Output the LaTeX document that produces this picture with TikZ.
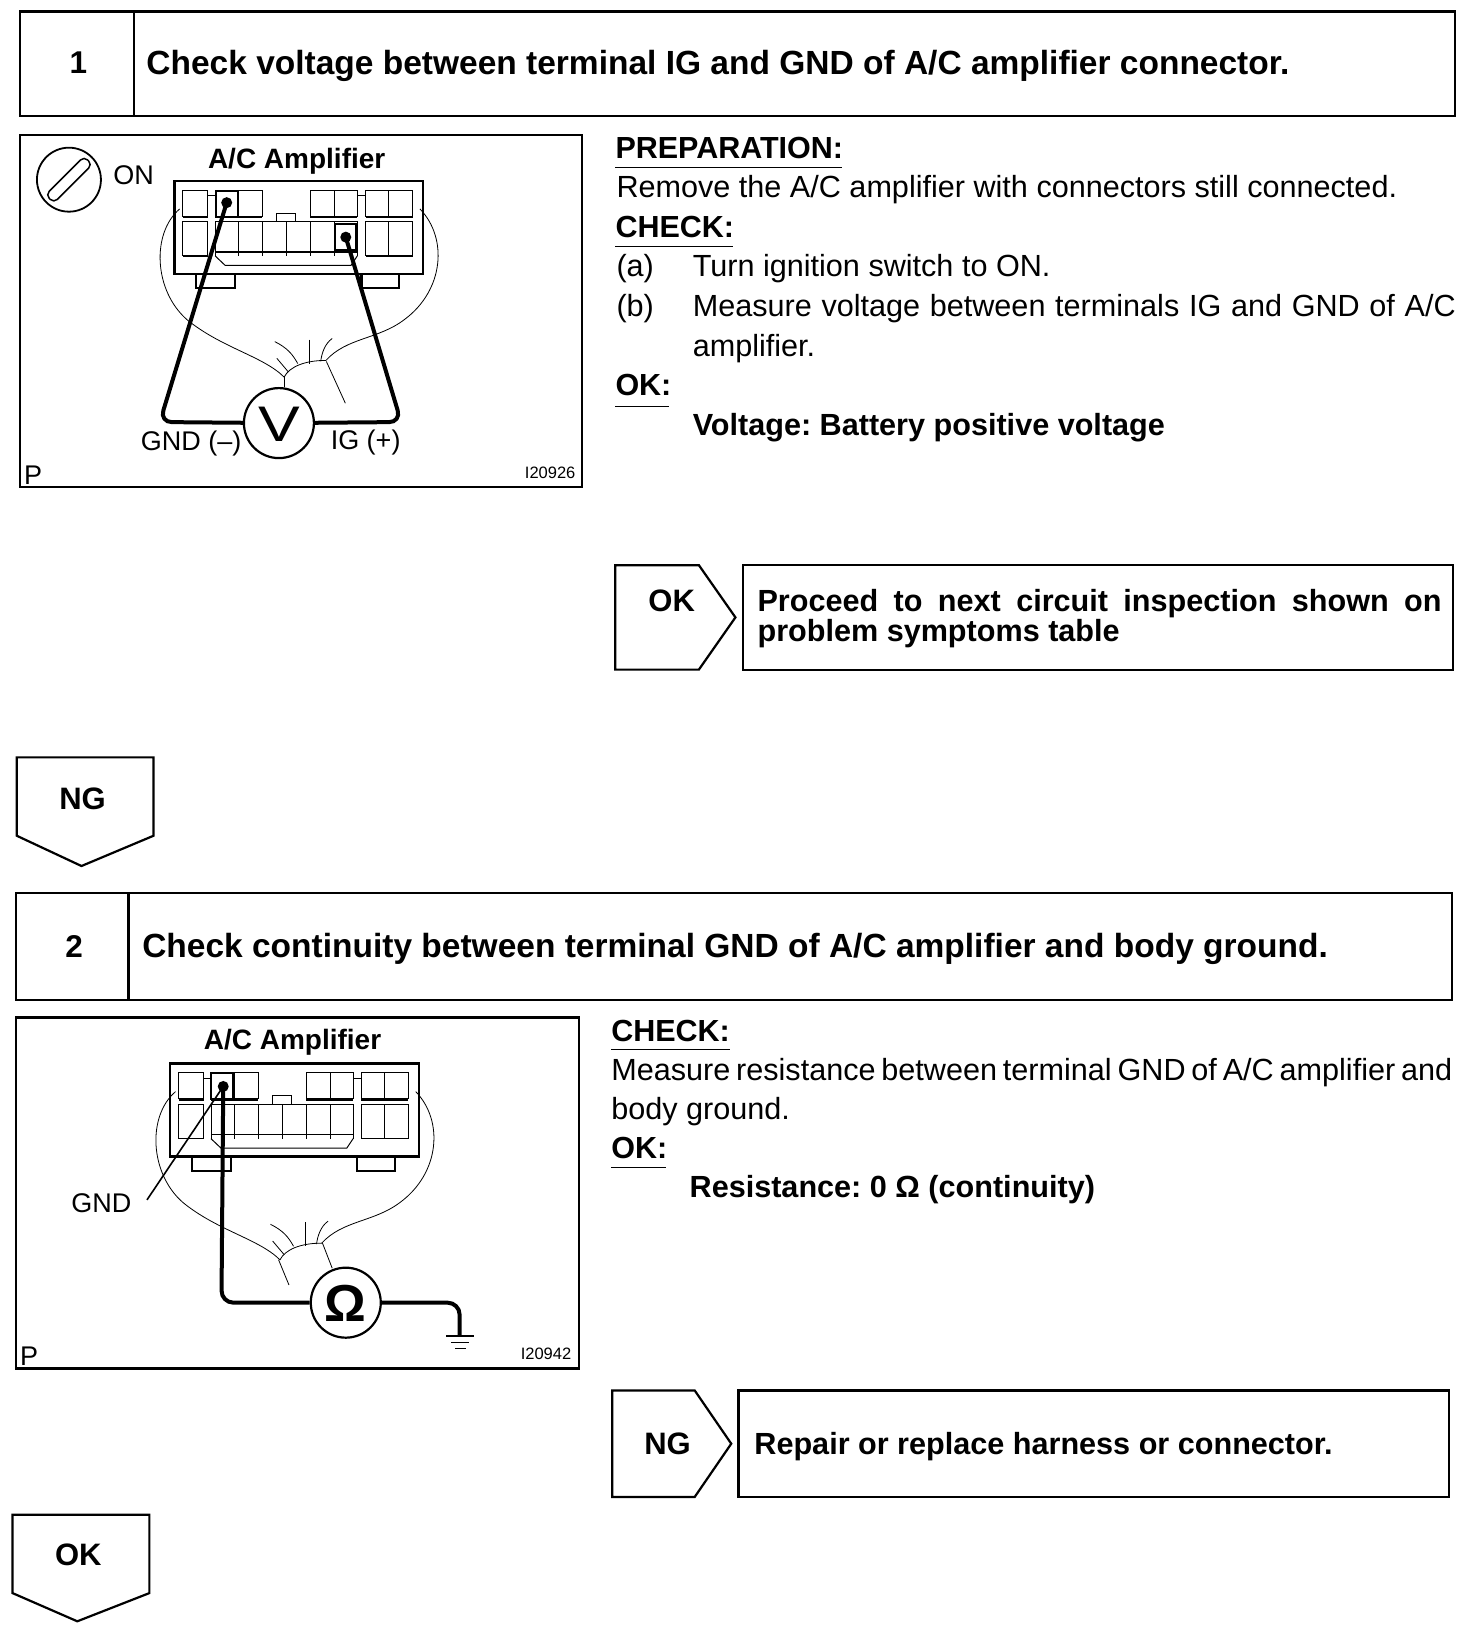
\documentclass[tikz,border=0pt]{standalone}
\usepackage{fontspec}
\setmainfont{Liberation Sans}
\usetikzlibrary{math}
\frenchspacing
\tikzset{
  box/.style={line width=2.2pt},
  thinl/.style={line width=0.8pt},
  cell/.style={line width=1pt},
  probe/.style={line width=4pt, rounded corners=12pt},
  under/.style={line width=1pt},
  txt/.style={anchor=base west, inner sep=0pt, font=\fontsize{30.6}{31}\selectfont},
  btxt/.style={txt, font=\fontsize{30.6}{31}\selectfont\bfseries},
  head/.style={anchor=base west, inner sep=0pt, font=\fontsize{30.5}{31}\selectfont\bfseries},
  title/.style={anchor=base west, inner sep=0pt, font=\fontsize{33.5}{34}\selectfont\bfseries},
  num/.style={inner sep=0pt, font=\fontsize{31.5}{32}\selectfont\bfseries},
  tag/.style={inner sep=0pt, font=\fontsize{31}{32}\selectfont\bfseries},
  lbl/.style={inner sep=0pt, font=\fontsize{27}{28}\selectfont},
  ampname/.style={inner sep=0pt, font=\fontsize{28}{28}\selectfont\bfseries},
  figno/.style={inner sep=0pt, anchor=east, font=\fontsize{16.5}{17}\selectfont},
  meter/.style={circle, draw, line width=2.2pt, minimum size=70pt, inner sep=0pt, fill=white},
  pin/.style={circle, fill, inner sep=0pt, minimum size=11pt},
  ampconn/.pic={
    % shell and clips
    \draw[box] (0,0) rectangle (238,89);
    \draw[box] (21,89) -- (21,103) -- (58,103) -- (58,89);
    \draw[box] (179,89) -- (179,103) -- (215,103) -- (215,89);
    % cells
    \foreach \xa/\xb in {8/32,61/84,130/153,153/175,183/205,205/228} {
      \draw[cell] (\xa,9) rectangle (\xb,34);
    }
    \foreach \xa/\xb in {8/32,183/205,205/228} {
      \draw[cell] (\xa,39) rectangle (\xb,72);
    }
    \foreach \xa in {39,61,84,107,130,153,175} {
      \draw[cell] (\xa,39) -- (\xa,72);
    }
    \draw[cell] (39,39) -- (175,39);
    \draw[line width=1.6pt] (8,35) -- (32,35) (39,35) -- (84,35) (130,35) -- (175,35) (183,35) -- (228,35);
    \draw[line width=1.6pt] (8,72) -- (32,72) (39,68) -- (175,68) (183,72) -- (228,72);
    \draw[cell] (39,72) -- (48.5,81) -- (169,81) -- (175,72);
    \draw[cell] (98,39) -- (98,31) -- (116,31) -- (116,39);
    \draw[cell] (32,14) -- (39,14) (175,14) -- (183,14);
    % harness
    \draw[thinl] (5,27) .. controls (-22,50) and (-20,105) .. (12,133) .. controls (45,160) and (85,168) .. (105,188);
    \draw[thinl] (235,27) .. controls (262,55) and (258,105) .. (220,133) .. controls (195,152) and (165,150) .. (145,172);
    \draw[thinl] (105,188) .. controls (110,178) and (125,172) .. (145,172);
    \draw[thinl] (96,154) .. controls (108,160) and (113,166) .. (118,175);
    \draw[thinl] (98,170) -- (109,183);
    \draw[thinl] (129,152) -- (129,175);
    \draw[thinl] (151,151) .. controls (144,156) and (141,165) .. (140,173);
  }
}
\begin{document}
\begin{tikzpicture}[x=1.0447pt, y=-1.0447pt]
\tikzmath{
\W=1409;
\Hh=1568;
}
\useasboundingbox (0,0) rectangle (\W,\Hh);

% step 1
\draw[box] (19,11) rectangle (1393,111);
\draw[box] (128,11) -- (128,111);
\node[num] (numone) at (75,60) {1};
\node[title] (titleone) at (140,71) {Check voltage between terminal IG and GND of A/C amplifier connector.};

\draw[box] (19,129) rectangle (557,466);
\pic at (167,173) {ampconn};
\draw[box] (206.5,182.5) rectangle (227.5,207.5);
\draw[box] (321,214.5) rectangle (340.5,239);
\node[ampname] (ampone) at (284,154) {A/C Amplifier};
\draw[line width=1.8pt] (66,172) circle (32pt);
\draw[line width=1.5pt, rounded corners=5pt, rotate around={45:(66,172)}] (40,166.5) rectangle (92,177.5);
\node[lbl] (on) at (128,168) {ON};
\node[pin] (gndpin) at (217,194) {};
\node[pin] (igpin) at (331,227) {};
\node[meter] (vmeter) at (267,405) {};
\node[inner sep=0pt, font=\fontsize{50}{50}\selectfont] (vsign) at (267,406) {\scalebox{1.25}[1]{V}};
\draw[probe] (gndpin.center) -- (153,404) -- (vmeter);
\draw[probe] (igpin.center) -- (384,404) -- (vmeter);
\draw[thinl] (312.4,346) -- (330.6,386);
\draw[thinl] (272,360.6) -- (272,370);
\node[lbl] (gndneg) at (183,425) {GND (--)};
\node[lbl] (igpos) at (350,424) {IG (+)};
\node[lbl, anchor=west] (pone) at (23,455) {P};
\node[figno] (figone) at (551,453) {I20926};

\node[head] (prep) at (589,152) {PREPARATION:};
\draw[under] (589,160) -- (806,160);
\node[txt] (remove) at (590,189) {Remove the A/C amplifier with connectors still connected.};
\node[head] (checkone) at (589,227) {CHECK:};
\draw[under] (589,236) -- (702,236);
\node[txt] (ita) at (590,265) {(a)};
\node[txt] (turn) at (663,265) {Turn ignition switch to ON.};
\node[txt] (itb) at (590,303) {(b)};
\node[txt] (meas) at (663,303) {\hbox to 763pt{Measure\hfill voltage\hfill between\hfill terminals\hfill IG\hfill and\hfill GND\hfill of\hfill A/C}};
\node[txt] (ampl) at (663,341) {amplifier.};
\node[head] (okone) at (589,379) {OK:};
\draw[under] (589,389) -- (640,389);
\node[btxt] (volt) at (663,417) {Voltage: Battery positive voltage};

\draw[box] (589,541) -- (669,541) -- (704,591) -- (669,641) -- (589,641) -- cycle;
\node[tag] (okside) at (643,575) {OK};
\draw[box] (711,541) rectangle (1391,641);
\node[btxt] (proa) at (725,585) {\hbox to 684pt{Proceed\hfill to\hfill next\hfill circuit\hfill inspection\hfill shown\hfill on}};
\node[btxt] (prob) at (725,614) {problem symptoms table};

\draw[box] (16,725) -- (147,725) -- (147,800) -- (78,829) -- (16,800) -- cycle;
\node[tag] (ngdown) at (79,765) {NG};

% step 2
\draw[box] (15,855) rectangle (1390,957);
\draw[box] (123,855) -- (123,957);
\node[num] (numtwo) at (71,906) {2};
\node[title] (titletwo) at (136,917) {Check continuity between terminal GND of A/C amplifier and body ground.};

\draw[box] (15,974) rectangle (554,1310);
\pic at (163,1018) {ampconn};
\draw[box] (202,1027) rectangle (223.6,1052);
\node[ampname] (amptwo) at (280,998) {A/C Amplifier};
\node[pin] (gndpintwo) at (213.7,1040) {};
\node[meter] (ometer) at (331,1247) {};
\node[inner sep=0pt, font=\fontsize{52}{52}\selectfont\bfseries] (osign) at (331,1248) {Ω};
\coordinate (earth) at (440,1279);
\draw[probe] (gndpintwo.center) -- (212,1247) -- (ometer);
\draw[probe] (ometer) -- (440,1247) -- (earth);
\draw[line width=2pt] (427,1279) -- (454,1279);
\draw[line width=1.5pt] (432,1285) -- (449,1285);
\draw[line width=1.5pt] (436,1291) -- (446,1291);
\coordinate (leader) at (140.7,1148.6);
\node[lbl] (gndlbl) at (97,1152) {GND};
\draw[line width=1.6pt] (gndpintwo.center) -- (leader);
\draw[thinl] (308.7,1190) -- (318,1214);
\draw[thinl] (266.7,1206) -- (276.6,1230);
\node[lbl, anchor=west] (ptwo) at (19,1298) {P};
\node[figno] (figtwo) at (547,1296) {I20942};

\node[head] (checktwo) at (585,997) {CHECK:};
\draw[under] (585,1005) -- (699,1005);
\node[txt] (measa) at (585,1034) {\hbox to 841pt{Measure\hfill resistance\hfill between\hfill terminal\hfill GND\hfill of\hfill A/C\hfill amplifier\hfill and}};
\node[txt] (measb) at (585,1072) {body ground.};
\node[head] (oktwo) at (585,1109) {OK:};
\draw[under] (585,1118) -- (638,1118);
\node[btxt] (resist) at (660,1146) {Resistance: 0 Ω (continuity)};

\draw[box] (586,1331) -- (665,1331) -- (700,1382) -- (665,1433) -- (586,1433) -- cycle;
\node[tag] (ngside) at (639,1382) {NG};
\draw[box] (707,1331) rectangle (1387,1433);
\node[btxt] (repair) at (722,1392) {Repair or replace harness or connector.};

\draw[box] (12,1450) -- (143,1450) -- (143,1525) -- (74,1552) -- (12,1525) -- cycle;
\node[tag] (okdown) at (75,1488) {OK};
\end{tikzpicture}
\end{document}
